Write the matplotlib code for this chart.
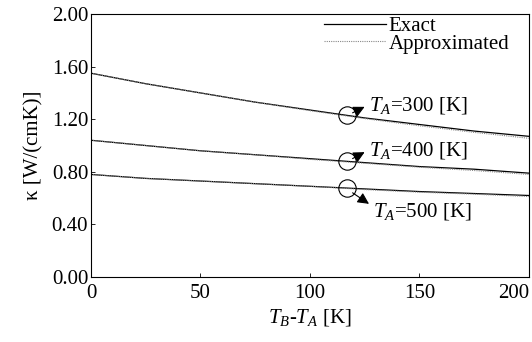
import matplotlib

matplotlib.use("Agg")
import matplotlib.pyplot as plt  # noqa: E402
import numpy as np  # noqa: E402

# temperature difference T_B - T_A [K]
dT = [0, 25, 50, 75, 100, 125, 150, 175, 200]

# kappa [W/(cmK)], exact
exact_300 = [1.55, 1.47, 1.40, 1.33, 1.27, 1.21, 1.16, 1.11, 1.07]
exact_400 = [1.04, 1.00, 0.96, 0.93, 0.90, 0.87, 0.84, 0.82, 0.79]
exact_500 = [0.78, 0.75, 0.73, 0.71, 0.69, 0.67, 0.65, 0.635, 0.62]

# kappa [W/(cmK)], approximated
approx_300 = [1.55, 1.47, 1.40, 1.33, 1.265, 1.205, 1.15, 1.10, 1.055]
approx_400 = [1.04, 1.00, 0.96, 0.93, 0.895, 0.865, 0.835, 0.81, 0.78]
approx_500 = [0.78, 0.75, 0.73, 0.71, 0.69, 0.665, 0.645, 0.63, 0.612]

# marked points and their labels
mark_x = 117
mark_labels = ["$T_A$=300 [K]", "$T_A$=400 [K]", "$T_A$=500 [K]"]

plt.rcParams["font.family"] = "Liberation Serif"
plt.rcParams["mathtext.fontset"] = "custom"
plt.rcParams["mathtext.rm"] = "Liberation Serif"
plt.rcParams["mathtext.it"] = "Liberation Serif:italic"

fig = plt.figure(figsize=(5.32, 3.42), dpi=100)
ax = fig.add_axes([0.171, 0.19, 0.823, 0.769])

ax.plot(dT, exact_300, color="black", lw=0.9, label="Exact")
ax.plot(dT, approx_300, color="#888888", lw=0.8, ls=(0, (1, 1)), label="Approximated")
for ex, ap in [(exact_400, approx_400), (exact_500, approx_500)]:
    ax.plot(dT, ex, color="black", lw=0.9)
    ax.plot(dT, ap, color="#888888", lw=0.8, ls=(0, (1, 1)))

ys = [np.interp(mark_x, dT, e) for e in (exact_300, exact_400, exact_500)]
ax.plot([mark_x] * 3, ys, "o", mfc="none", mec="black", ms=12.5, mew=0.8)

fs = 15
for y, lab, off in zip(ys, mark_labels, [(8, 0.065), (8, 0.07), (10, -0.12)]):
    tip = (mark_x + off[0], y + off[1])
    ax.annotate("", xy=tip, xytext=(mark_x + 2.5, y + off[1] * 0.3),
                arrowprops=dict(arrowstyle="-|>", color="black", lw=0.8,
                                mutation_scale=17, shrinkA=0, shrinkB=0))
    va = "center" if off[1] > 0 else "top"
    ty = y + off[1] + 0.01 if off[1] > 0 else y + off[1] + 0.02
    ax.text(tip[0] + 2, ty, lab, fontsize=fs, va=va, ha="left")

ax.set_xlim(0, 200)
ax.set_ylim(0, 2.0)
ax.set_xticks([0, 50, 100, 150, 200])
ax.set_yticks([0, 0.4, 0.8, 1.2, 1.6, 2.0])
ax.set_yticklabels([f"{v:.2f}" for v in [0, 0.4, 0.8, 1.2, 1.6, 2.0]])
ax.tick_params(direction="in", length=3, width=0.6, labelsize=fs)
ax.tick_params(axis="y", pad=2)
ax.tick_params(axis="x", pad=5)
ax.get_xticklabels()[-1].set_horizontalalignment("right")
ax.set_xlabel("$T_B$-$T_A$ [K]", fontsize=fs, labelpad=3)
ax.set_ylabel("κ [W/(cmK)]", fontsize=fs, labelpad=6)
for s in ax.spines.values():
    s.set_linewidth(0.8)

ax.legend(loc="upper right", bbox_to_anchor=(0.955, 0.99), frameon=False,
          fontsize=fs, handlelength=3.0, handletextpad=0.1,
          labelspacing=-0.1, borderaxespad=0.0, borderpad=0.0)

fig.savefig("out.png", dpi=100)
